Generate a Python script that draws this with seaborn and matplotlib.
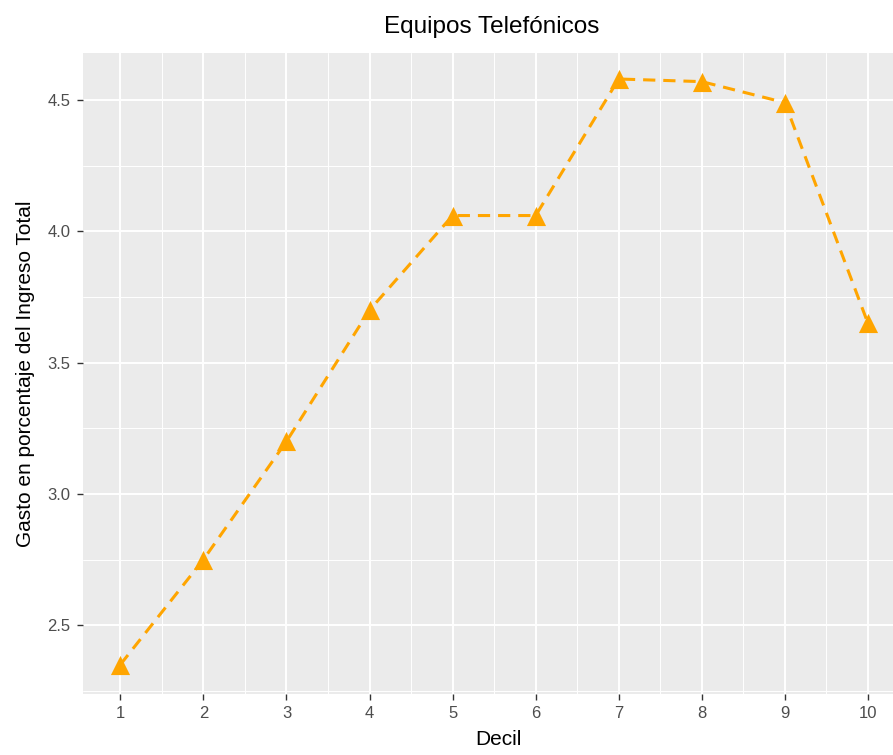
import numpy as np
import pandas as pd
import matplotlib
matplotlib.use("Agg")
import matplotlib.pyplot as plt
import seaborn as sns
from matplotlib.ticker import MultipleLocator, FormatStrFormatter

# data
decil = [1, 2, 3, 4, 5, 6, 7, 8, 9, 10]
gasto = [2.35, 2.75, 3.20, 3.70, 4.06, 4.06, 4.58, 4.57, 4.49, 3.65]

df = pd.DataFrame({"Decil": decil, "Gasto": gasto})

# ggplot-like grey theme
sns.set_theme(style="darkgrid", rc={
    "axes.facecolor": "#EBEBEB",
    "grid.color": "white",
    "axes.edgecolor": "#EBEBEB",
})
plt.rcParams["font.family"] = ["Liberation Sans", "DejaVu Sans"]

fig = plt.figure(figsize=(8.93, 7.55), dpi=100)
ax = fig.add_axes([83 / 893, 1 - 694 / 755, (913.6 - 83) / 893, (694 - 53) / 755])

sns.lineplot(data=df, x="Decil", y="Gasto", ax=ax, color="#FFA500",
             linestyle="--", linewidth=2.2, dashes=False, zorder=3)
ax.lines[0].set_dashes([4, 2.6])
sns.scatterplot(data=df, x="Decil", y="Gasto", ax=ax, color="#FFA500",
                marker="^", s=190, linewidth=0, zorder=4)

ax.set_xlim(0.55, 10.55)
ax.set_ylim(2.238, 4.679)
ax.set_xticks(decil)
ax.xaxis.set_minor_locator(MultipleLocator(1, offset=0.5))
ax.yaxis.set_major_locator(MultipleLocator(0.5))
ax.yaxis.set_major_formatter(FormatStrFormatter("%.1f"))
ax.yaxis.set_minor_locator(MultipleLocator(0.25))
ax.grid(which="major", color="white", linewidth=1.4)
ax.grid(which="minor", color="white", linewidth=0.7)
for s in ax.spines.values():
    s.set_visible(False)

ax.tick_params(axis="both", which="major", length=4, width=1, color="#333333",
               labelcolor="#4D4D4D", labelsize=12, pad=5,
               bottom=True, left=True)
ax.tick_params(axis="both", which="minor", length=0)

ax.set_xlabel("Decil", fontsize=15, color="black", labelpad=6)
ax.set_ylabel("Gasto en porcentaje del Ingreso Total", fontsize=15, color="black", labelpad=9)
fig.text(492 / 893, 1 - 27 / 755, "Equipos Telefónicos", ha="center", va="center",
         fontsize=17.5, color="black")

fig.savefig("out.png", dpi=100, facecolor="white")
